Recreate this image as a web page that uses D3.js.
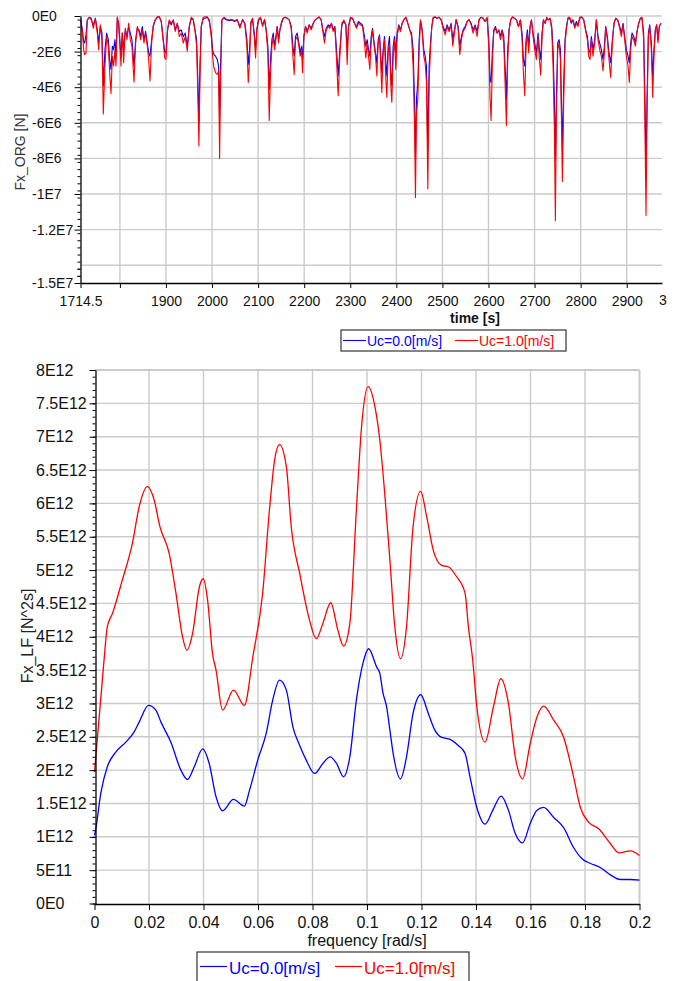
<!DOCTYPE html>
<html>
<head>
<meta charset="utf-8">
<script src="https://cdn.jsdelivr.net/npm/d3@7"></script>
<style>
body { margin: 0; background: #fff; }
text { font-family: Arial, "Liberation Sans", sans-serif; }
</style>
</head>
<body>
<script>
// ---- top chart: Fx_ORG time series, values in MN ----
var timeS = [
  1714.5,1718.5,1721.4,1723.5,1726.4,1729.3,1733.7,1738,1742.3,1746.7,
  1751,1753.9,1757.5,1761.1,1764,1767.6,1771.3,1774.9,1777.8,1780.7,
  1783.6,1786.4,1789.3,1791.5,1794.4,1797.3,1800.2,1802.4,1805.2,1808.1,
  1811.8,1815.4,1819,1822.6,1826.2,1830.6,1834.2,1837.8,1841.4,1845,
  1848.6,1852.2,1855.9,1859.5,1862.4,1865.3,1868.9,1872.5,1876.8,1881.2,
  1885.5,1889.8,1894.2,1897.1,1900,1903.6,1907.2,1911.5,1915.9,1920.2,
  1924.5,1928.9,1933.2,1937.6,1941.9,1946.2,1950.6,1954.9,1959.3,1963.6,
  1966.5,1969.4,1971.5,1973.7,1976.6,1981,1985.3,1989.6,1994,1998.3,
  2001.2,2004.1,2007.7,2011.3,2014.2,2016.4,2018.5,2021.4,2025.8,2031.6,
  2037.3,2043.1,2048.9,2054.7,2060.5,2066.3,2071.3,2075.7,2078.6,2081.5,
  2084.3,2088,2091.6,2094.5,2097.4,2101,2105.3,2109.7,2114,2117.6,
  2121.2,2124.1,2127,2129.9,2132.8,2135.7,2138.6,2141.5,2144.4,2147.3,
  2150.9,2154.5,2158.8,2163.2,2167.5,2171.8,2175.5,2178.3,2181.2,2184.9,
  2188.5,2191.4,2194.3,2196.4,2199.3,2202.9,2206.5,2210.9,2215.2,2219.6,
  2223.9,2228.2,2232.6,2236.9,2240.5,2244.1,2247.8,2252.1,2255.7,2259.3,
  2262.9,2266.6,2270.2,2273.8,2277.4,2281.7,2286.1,2290.4,2293.3,2296.2,
  2300.5,2304.9,2309.2,2313.6,2317.9,2322.2,2326.6,2330.9,2333.8,2336.7,
  2339.6,2342.5,2345.4,2348.3,2351.9,2354.8,2357.7,2360.6,2363.5,2366.3,
  2368.5,2371.4,2374.3,2377.2,2379.4,2382.3,2385.1,2388,2390.2,2393.1,
  2396,2398.9,2401.8,2405.4,2409,2412.6,2416.2,2420.6,2424.9,2429.2,
  2432.9,2436.5,2439.4,2441.5,2443.7,2446.6,2449.5,2452.4,2456,2459.6,
  2462.5,2465.4,2468.3,2471.2,2474.1,2477,2479.9,2484.2,2488.5,2492.9,
  2497.2,2501.5,2505.9,2510.2,2514.6,2518.9,2522.5,2526.1,2529.8,2534.1,
  2537.7,2541.3,2544.9,2549.3,2553.6,2558,2562.3,2566.6,2571,2575.3,
  2579.6,2584,2588.3,2592.7,2597,2600.6,2603.5,2605.7,2608.6,2611.5,
  2615.1,2618.7,2622.3,2625.9,2629.5,2633.2,2636,2638.9,2641.8,2644.7,
  2648.3,2651.9,2656.3,2660.6,2665,2669.3,2672.9,2675.8,2678.7,2681.6,
  2684.5,2687.4,2690.3,2693.2,2696.8,2700.4,2704,2707.6,2710.5,2713.4,
  2716.3,2719.2,2722.8,2726.4,2730,2733.7,2737.3,2740.2,2743.1,2745.2,
  2747.4,2750.3,2753.2,2756.1,2758.2,2760.4,2763.3,2766.2,2769.1,2772.7,
  2776.3,2779.9,2783.5,2787.2,2790.8,2794.4,2798,2802.4,2806.7,2811,
  2814.6,2817.5,2820.4,2823.3,2826.9,2830.5,2834.2,2837.8,2841.4,2845,
  2848.6,2851.5,2854.4,2858,2861.6,2865.3,2868.9,2872.5,2876.1,2880.4,
  2884.8,2888.4,2892,2895.6,2899.2,2902.9,2905.7,2908.6,2911.5,2915.2,
  2918.8,2922.4,2926,2929.6,2933.2,2936.8,2939.7,2941.9,2944.1,2947,
  2949.9,2953.5,2956.4,2959.2,2962.1,2965,2967.9,2970.8,2974.4
];
var fxUc0 = [
  -0.13,-0.78,-1.43,-1.52,-1.06,-0.22,-0.07,-0.22,-0.5,-0.13,
  -0.78,-1.52,-0.59,-0.96,-3.93,-1.89,-0.96,-1.33,-2.44,-3.0,
  -1.7,-1.89,-1.33,-2.26,-0.13,-0.41,-1.52,-2.26,-0.96,-1.89,
  -0.78,-1.15,-0.59,-0.96,-1.33,-2.81,-1.33,-0.69,-0.78,-1.15,
  -0.59,-1.33,-0.87,-1.52,-2.07,-2.26,-1.33,-0.59,-0.22,-0.07,
  -0.04,-0.31,-1.33,-1.98,-2.07,-0.78,-0.31,-0.5,-0.22,-0.78,
  -0.41,-0.87,-0.78,-1.15,-0.96,-1.7,-0.59,-0.13,-0.22,-0.87,
  -1.33,-3.74,-6.0,-2.81,-0.59,-0.13,-0.13,-0.07,-0.22,-0.96,
  -1.89,-2.17,-2.26,-2.44,-2.8,-5.6,-2.81,-0.22,-0.13,-0.22,
  -0.26,-0.22,-0.31,-0.22,-0.59,-0.22,-0.41,-1.33,-2.72,-1.89,
  -0.41,-0.22,-0.96,-1.89,-0.78,-0.22,-0.13,-0.5,-0.22,-0.78,
  -1.7,-4.11,-2.44,-1.33,-0.96,-1.7,-1.15,-0.59,-1.33,-0.78,
  -0.41,-0.13,-0.07,-0.13,-0.22,-0.59,-1.7,-2.26,-1.15,-0.96,
  -1.52,-2.07,-1.7,-2.44,-1.15,-0.59,-0.87,-0.5,-0.69,-0.41,
  -0.22,-0.13,-0.07,-0.22,-0.78,-1.15,-0.69,-0.5,-0.59,-0.41,
  -0.78,-0.59,-1.89,-3.37,-1.89,-0.5,-0.31,-0.5,-1.89,-0.59,
  -0.13,-0.13,-0.41,-0.59,-0.31,-0.41,-0.5,-1.15,-1.7,-1.33,
  -1.89,-2.26,-1.15,-0.69,-1.52,-2.07,-2.63,-1.33,-1.06,-2.26,
  -3.19,-1.89,-1.15,-2.63,-3.37,-1.7,-1.15,-3.19,-3.93,-1.7,
  -1.15,-2.07,-0.96,-0.5,-0.78,-0.41,-0.22,-0.07,-0.41,-0.78,
  -0.96,-1.89,-4.67,-8.0,-4.67,-3.74,-1.33,-0.26,-0.78,-1.89,
  -2.26,-2.81,-7.5,-2.81,-1.52,-0.59,-0.13,-0.07,-0.13,-0.07,
  -0.22,-0.59,-0.87,-0.5,-0.78,-0.41,-1.33,-0.78,-0.22,-0.59,
  -1.7,-1.15,-0.78,-0.59,-0.31,-0.22,-0.41,-0.78,-0.5,-0.87,
  -0.22,-0.07,-0.13,-0.31,-0.13,-1.33,-3.56,-3.74,-1.89,-0.78,
  -0.59,-0.96,-0.78,-1.15,-0.78,-1.15,-2.81,-4.67,-1.89,-0.78,
  -0.22,-0.07,-0.13,-0.22,-0.59,-0.22,-0.96,-2.44,-2.81,-1.33,
  -0.78,-1.7,-0.59,-0.22,-0.96,-1.52,-2.07,-0.96,-1.89,-2.44,
  -0.96,-0.22,-0.41,-0.13,-0.22,-0.13,-0.59,-1.89,-4.67,-8.1,
  -4.67,-1.52,-1.33,-1.89,-4.67,-7.5,-3.74,-1.33,-0.59,-0.13,
  -0.13,-0.41,-0.22,-0.59,-0.31,-0.5,-0.13,-0.07,-0.22,-0.78,
  -1.15,-1.89,-2.07,-1.15,-1.89,-1.33,-0.22,-1.15,-1.52,-1.89,
  -2.44,-1.7,-0.59,-1.15,-2.07,-2.63,-1.33,-0.41,-0.13,-0.22,
  -0.59,-0.96,-0.41,-1.15,-1.89,-2.26,-2.63,-1.52,-0.96,-1.15,
  -1.52,-0.87,-0.41,-0.13,-0.13,-0.96,-4.67,-9.0,-4.67,-0.96,
  -0.5,-1.52,-3.37,-1.89,-0.78,-0.5,-1.33,-0.59,-0.41
];
var fxUc1 = [
  -0.22,-0.87,-1.89,-2.17,-2.07,-0.22,-0.07,-0.13,-0.69,-0.13,
  -0.96,-1.89,-0.5,-1.33,-5.5,-2.81,-1.15,-1.7,-3.19,-4.35,
  -2.26,-2.81,-1.89,-2.81,-0.04,-0.5,-1.7,-2.81,-0.96,-2.63,
  -0.69,-1.33,-0.41,-1.33,-1.7,-3.7,-1.52,-0.59,-0.87,-1.33,
  -0.78,-1.52,-0.96,-1.7,-2.44,-3.65,-1.52,-0.5,-0.22,-0.04,
  -0.04,-0.31,-1.43,-2.35,-2.44,-0.69,-0.22,-0.41,-0.22,-0.87,
  -0.41,-1.15,-0.96,-1.52,-1.15,-1.98,-0.59,-0.07,-0.19,-0.96,
  -1.7,-4.67,-7.3,-3.74,-0.59,-0.07,-0.04,-0.04,-0.31,-1.15,
  -2.26,-2.91,-3.19,-3.28,-3.1,-8.0,-3.74,-0.22,-0.07,-0.19,
  -0.22,-0.19,-0.26,-0.19,-0.69,-0.19,-0.5,-1.7,-3.74,-2.44,
  -0.31,-0.13,-1.15,-2.35,-0.69,-0.19,-0.07,-0.59,-0.19,-0.87,
  -2.07,-5.87,-3.19,-1.7,-1.15,-1.89,-1.33,-0.59,-1.52,-0.78,
  -0.31,-0.13,-0.07,-0.13,-0.22,-0.69,-2.26,-3.28,-1.33,-1.15,
  -1.7,-2.26,-1.89,-3.19,-1.15,-0.59,-0.96,-0.5,-0.78,-0.41,
  -0.22,-0.13,-0.04,-0.22,-0.87,-1.52,-0.78,-0.59,-0.69,-0.41,
  -0.87,-0.69,-2.44,-4.48,-2.26,-0.41,-0.22,-0.5,-2.72,-0.59,
  -0.07,-0.13,-0.41,-0.69,-0.41,-0.5,-0.59,-1.52,-2.35,-1.52,
  -2.26,-3.0,-1.52,-0.78,-1.7,-2.26,-3.37,-1.52,-1.15,-2.81,
  -4.3,-2.07,-1.33,-3.56,-4.57,-2.07,-1.52,-3.93,-4.85,-2.26,
  -1.33,-3.0,-1.15,-0.59,-0.87,-0.41,-0.22,-0.07,-0.41,-0.78,
  -1.15,-2.81,-6.15,-10.2,-5.59,-4.67,-1.89,-0.22,-0.78,-2.26,
  -2.63,-3.74,-9.7,-3.74,-1.89,-0.59,-0.07,-0.04,-0.13,-0.07,
  -0.22,-0.69,-1.06,-0.59,-0.87,-0.5,-1.7,-0.96,-0.19,-0.69,
  -2.17,-1.33,-0.87,-0.69,-0.31,-0.19,-0.5,-0.96,-0.59,-1.15,
  -0.19,-0.07,-0.13,-0.31,-0.07,-1.7,-4.67,-5.87,-2.44,-0.87,
  -0.69,-0.96,-0.78,-1.33,-0.87,-1.52,-3.74,-6.15,-2.44,-0.78,
  -0.19,-0.04,-0.13,-0.22,-0.59,-0.22,-1.33,-3.19,-4.48,-1.7,
  -0.96,-2.07,-0.59,-0.22,-1.15,-1.89,-2.44,-1.15,-2.44,-3.33,
  -1.15,-0.22,-0.41,-0.07,-0.22,-0.13,-0.78,-2.81,-6.52,-11.5,
  -5.59,-1.89,-1.52,-2.44,-5.59,-9.3,-4.67,-1.52,-0.78,-0.07,
  -0.07,-0.31,-0.22,-0.69,-0.41,-0.59,-0.07,-0.04,-0.22,-0.87,
  -1.33,-2.26,-2.44,-1.33,-2.26,-1.52,-0.22,-1.33,-1.89,-2.26,
  -3.09,-2.07,-0.59,-1.33,-2.44,-3.46,-1.52,-0.41,-0.13,-0.22,
  -0.69,-1.15,-0.5,-1.33,-2.26,-2.81,-3.74,-1.89,-1.15,-1.33,
  -1.7,-0.87,-0.41,-0.13,-0.07,-1.33,-6.52,-11.2,-5.59,-1.15,
  -0.59,-1.89,-4.57,-2.26,-0.78,-0.5,-1.52,-0.59,-0.41
];
var timeTicks = [1714.5,1800,1900,2000,2100,2200,2300,2400,2500,2600,2700,2800,2900];
var fxTicks = [0,-2e6,-4e6,-6e6,-8e6,-1e7,-1.2e7,-1.5e7];
var fxGrid = [0,-2e6,-4e6,-6e6,-8e6,-1e7,-1.2e7,-1.4e7];

// ---- bottom chart: Fx_LF spectra, values in 1E12 N^2s ----
var freqUc0 = [0,0.0004,0.0023,0.0047,0.0078,0.0115,0.0145,0.0164,0.0198,0.0225,
  0.0244,0.028,0.0317,0.0341,0.0366,0.0397,0.0421,0.0446,0.047,0.051,
  0.055,0.0569,0.0599,0.063,0.0654,0.0679,0.0704,0.0728,0.0753,0.0777,
  0.0808,0.0838,0.0865,0.0888,0.0914,0.0937,0.0961,0.0985,0.1006,0.1035,
  0.1047,0.1059,0.1072,0.1084,0.1096,0.1123,0.1145,0.1169,0.1197,0.1225,
  0.1249,0.1274,0.1305,0.1335,0.136,0.1378,0.1403,0.1433,0.1464,0.1492,
  0.1519,0.1544,0.1571,0.1599,0.1624,0.1648,0.1685,0.1721,0.1758,0.1789,
  0.182,0.1856,0.1893,0.193,0.1967,0.2];
var psdUc0 = [1.02,1.1,1.65,2.05,2.27,2.42,2.57,2.72,2.97,2.9,
  2.72,2.42,2.0,1.86,2.05,2.32,2.1,1.6,1.39,1.56,
  1.46,1.7,2.15,2.55,3.05,3.35,3.2,2.65,2.37,2.15,
  1.95,2.1,2.2,2.1,1.9,2.2,3.05,3.6,3.82,3.55,
  3.45,3.15,2.95,2.6,2.25,1.87,2.2,2.85,3.13,2.85,
  2.6,2.49,2.46,2.37,2.25,1.9,1.44,1.19,1.42,1.61,
  1.4,1.05,0.91,1.2,1.4,1.44,1.29,1.14,0.84,0.67,
  0.6,0.54,0.43,0.36,0.36,0.35];
var freqUc1 = [0,0.0035,0.0047,0.0066,0.0102,0.0139,0.0164,0.0194,0.0219,0.024,
  0.0274,0.0299,0.0323,0.0339,0.036,0.0385,0.0399,0.0415,0.0433,0.0446,
  0.047,0.051,0.055,0.0581,0.0617,0.0642,0.0661,0.0679,0.0704,0.0722,
  0.0753,0.0789,0.0814,0.0838,0.0867,0.0893,0.0914,0.0937,0.0961,0.098,
  0.1004,0.1029,0.1047,0.1065,0.1084,0.1102,0.1123,0.1145,0.1169,0.1197,
  0.1219,0.1243,0.1274,0.1298,0.1329,0.136,0.1372,0.1388,0.1403,0.1433,
  0.1464,0.1491,0.1519,0.1544,0.1571,0.1599,0.1624,0.1648,0.1685,0.1721,
  0.1758,0.1783,0.1813,0.185,0.1893,0.1924,0.1967,0.2];
var psdUc1 = [1.97,3.65,4.15,4.35,4.85,5.4,5.95,6.25,6.05,5.65,
  5.25,4.65,4.0,3.8,4.05,4.75,4.87,4.55,3.75,3.5,
  2.9,3.2,2.97,3.7,4.65,5.9,6.65,6.88,6.55,5.65,
  4.95,4.25,3.97,4.2,4.51,4.1,3.86,4.2,5.9,7.15,
  7.75,7.45,6.95,6.15,5.15,4.15,3.67,4.15,5.65,6.18,
  5.8,5.3,5.07,5.05,4.9,4.65,4.15,3.65,2.95,2.42,
  2.95,3.37,3.0,2.2,1.87,2.4,2.8,2.96,2.75,2.5,
  1.9,1.44,1.22,1.12,0.9,0.76,0.79,0.72];
var freqTicks = [0,0.02,0.04,0.06,0.08,0.1,0.12,0.14,0.16,0.18,0.2];
var psdTicks = d3.range(0, 8.01e12, 0.5e12);

var seriesNames = ["Uc=0.0[m/s]", "Uc=1.0[m/s]"];
var seriesColors = ["#0000ff", "#ff0000"];
var gridColor = "#cbcbcb";

var svg = d3.select("body").append("svg")
    .attr("width", 681)
    .attr("height", 981);

// 0 -> 0E0, -1.5e7 -> -1.5E7
function sci(v) {
  if (v === 0) return "0E0";
  var e = Math.floor(Math.log10(Math.abs(v)) + 1e-9);
  var m = +(v / Math.pow(10, e)).toFixed(3);
  return m + "E" + e;
}

function styleAxis(g, size) {
  g.select(".domain").attr("stroke", "#000").attr("stroke-width", 1.3);
  g.selectAll(".tick line").attr("stroke", "#000");
  g.selectAll("text").attr("fill", "#111").style("font-size", size + "px");
}

// ================= top chart =================
var x1 = d3.scaleLinear().domain([1714.5, 2976.6]).range([80.5, 662]);
var y1 = d3.scaleLinear().domain([-1.5e7, 0]).range([283, 16]);

var top1 = svg.append("g");

top1.selectAll("line.vg")
    .data(timeTicks.slice(1))
  .enter().append("line")
    .attr("x1", function(d) { return x1(d); })
    .attr("x2", function(d) { return x1(d); })
    .attr("y1", 16).attr("y2", 283)
    .attr("stroke", gridColor).attr("stroke-width", 1.4);

top1.selectAll("line.hg")
    .data(fxGrid)
  .enter().append("line")
    .attr("x1", 80.5).attr("x2", 662)
    .attr("y1", function(d) { return y1(d); })
    .attr("y2", function(d) { return y1(d); })
    .attr("stroke", gridColor).attr("stroke-width", 1.4);

top1.append("clipPath").attr("id", "clipTop")
  .append("rect").attr("x", 80.5).attr("y", 10).attr("width", 582).attr("height", 274);

var topData = [fxUc0, fxUc1].map(function(vals) {
  return timeS.map(function(t, i) { return { t: t, v: vals[i] * 1e6 }; });
});
var line1 = d3.line()
    .x(function(d) { return x1(d.t); })
    .y(function(d) { return y1(d.v); });

top1.append("g").attr("clip-path", "url(#clipTop)")
  .selectAll("path")
    .data(topData)
  .enter().append("path")
    .attr("d", line1)
    .attr("fill", "none")
    .attr("stroke", function(d, i) { return seriesColors[i]; })
    .attr("stroke-width", 1.1)
    .attr("stroke-linejoin", "round");

// minor y ticks
top1.append("g").attr("transform", "translate(80.5,0)")
    .call(d3.axisLeft(y1).tickValues(d3.range(-1.5e7, 1, 4e5).concat([-1.46e7,-1.42e7])).tickSize(3).tickFormat(""))
    .call(function(g) { g.select(".domain").remove(); g.selectAll("line").attr("stroke", "#000"); });

var yAx1 = top1.append("g").attr("transform", "translate(80.5,0)")
    .call(d3.axisLeft(y1).tickValues(fxTicks).tickSize(6).tickSizeOuter(0).tickFormat(sci));
styleAxis(yAx1, 14);
yAx1.selectAll("text").attr("x", 32 - 80.5).attr("text-anchor", "start");

var xAx1 = top1.append("g").attr("transform", "translate(0,283)")
    .call(d3.axisBottom(x1).tickValues(timeTicks).tickSize(5).tickSizeOuter(0)
      .tickFormat(function(d) { return d === 1800 ? "" : d; }));
styleAxis(xAx1, 14);
xAx1.selectAll("text").attr("dy", "1.05em");

// only the first digit of the last label is visible
top1.append("text")
    .attr("x", 659).attr("y", 305)
    .style("font-size", "14px").attr("fill", "#111")
    .text("3");

top1.append("text")
    .attr("transform", "translate(25,152)rotate(-90)")
    .attr("text-anchor", "middle")
    .style("font-size", "14px").attr("fill", "#333")
    .text("Fx_ORG [N]");

top1.append("text")
    .attr("x", 475).attr("y", 323)
    .attr("text-anchor", "middle")
    .style("font-size", "14px").style("font-weight", "bold").attr("fill", "#111")
    .text("time [s]");

// legend
var leg1 = top1.append("g");
leg1.append("rect").attr("x", 341).attr("y", 330).attr("width", 225).attr("height", 21)
    .attr("fill", "#fff").attr("stroke", "#333").attr("stroke-width", 1.2);
[343, 455].forEach(function(lx, i) {
  leg1.append("line").attr("x1", lx).attr("x2", lx + 23).attr("y1", 340.5).attr("y2", 340.5)
      .attr("stroke", seriesColors[i]).attr("stroke-width", 1.1);
  leg1.append("text").attr("x", lx + 24).attr("y", 345.5)
      .style("font-size", "14px").attr("fill", seriesColors[i])
      .text(seriesNames[i]);
});

// ================= bottom chart =================
var x2 = d3.scaleLinear().domain([0, 0.2]).range([94.5, 639.5]);
var y2 = d3.scaleLinear().domain([0, 8e12]).range([903.5, 370]);

var bot = svg.append("g");

bot.selectAll("line.vg")
    .data(freqTicks.slice(1))
  .enter().append("line")
    .attr("x1", function(d) { return x2(d); })
    .attr("x2", function(d) { return x2(d); })
    .attr("y1", 370).attr("y2", 903.5)
    .attr("stroke", gridColor).attr("stroke-width", function(d) { return d === 0.2 ? 2 : 1.4; });

bot.selectAll("line.hg")
    .data(psdTicks.slice(1))
  .enter().append("line")
    .attr("x1", 95).attr("x2", 639.5)
    .attr("y1", function(d) { return y2(d); })
    .attr("y2", function(d) { return y2(d); })
    .attr("stroke", gridColor).attr("stroke-width", function(d) { return d === 8e12 ? 2 : 1.4; });

var botData = [[freqUc0, psdUc0], [freqUc1, psdUc1]].map(function(s) {
  return s[0].map(function(f, i) { return { f: f, v: s[1][i] * 1e12 }; });
});
var line2 = d3.line()
    .curve(d3.curveMonotoneX)
    .x(function(d) { return x2(d.f); })
    .y(function(d) { return y2(d.v); });

bot.selectAll("path.s")
    .data(botData)
  .enter().append("path")
    .attr("d", line2)
    .attr("fill", "none")
    .attr("stroke", function(d, i) { return seriesColors[i]; })
    .attr("stroke-width", 1.3);

// minor y ticks
bot.append("g").attr("transform", "translate(95.5,0)")
    .call(d3.axisLeft(y2).tickValues(d3.range(0, 8.01e12, 1e11)).tickSize(3).tickFormat(""))
    .call(function(g) { g.select(".domain").remove(); g.selectAll("line").attr("stroke", "#000"); });

var yAx2 = bot.append("g").attr("transform", "translate(95.5,0)")
    .call(d3.axisLeft(y2).tickValues(psdTicks).tickSize(6).tickSizeOuter(0).tickFormat(sci));
styleAxis(yAx2, 16);
yAx2.selectAll("text").attr("x", 36 - 95.5).attr("text-anchor", "start");

var xAx2 = bot.append("g").attr("transform", "translate(0,904)")
    .call(d3.axisBottom(x2).tickValues(freqTicks).tickSize(6).tickSizeOuter(0)
      .tickFormat(function(d) { return d3.format("~g")(d); }));
styleAxis(xAx2, 16);
xAx2.selectAll("text").attr("dy", "0.95em");

bot.append("text")
    .attr("transform", "translate(33,636)rotate(-90)")
    .attr("text-anchor", "middle")
    .style("font-size", "16px").attr("fill", "#222")
    .text("Fx_LF [N^2s]");

bot.append("text")
    .attr("x", 367).attr("y", 946)
    .attr("text-anchor", "middle")
    .style("font-size", "16px").attr("fill", "#111")
    .text("frequency [rad/s]");

var leg2 = bot.append("g");
leg2.append("rect").attr("x", 197).attr("y", 952).attr("width", 272).attr("height", 30)
    .attr("fill", "#fff").attr("stroke", "#333").attr("stroke-width", 1.2);
[200, 335].forEach(function(lx, i) {
  leg2.append("line").attr("x1", lx).attr("x2", lx + 27).attr("y1", 966.5).attr("y2", 966.5)
      .attr("stroke", seriesColors[i]).attr("stroke-width", 1.2);
  leg2.append("text").attr("x", lx + 29).attr("y", 973.5)
      .style("font-size", "17px").attr("fill", seriesColors[i])
      .text(seriesNames[i]);
});
</script>
</body>
</html>
